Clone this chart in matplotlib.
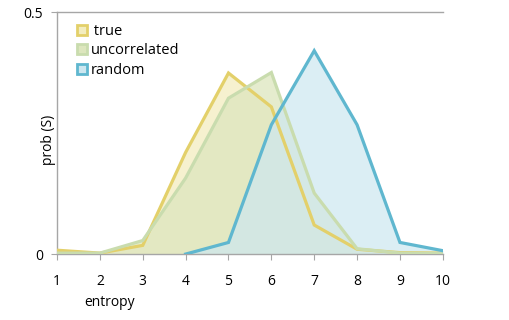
import numpy as np
import matplotlib
matplotlib.use("Agg")
import matplotlib.pyplot as plt
from matplotlib.lines import Line2D

entropy = [1, 2, 3, 4, 5, 6, 7, 8, 9, 10]
true_vals = [0.008, 0.002, 0.018, 0.21, 0.374, 0.304, 0.06, 0.01, 0.003, 0.002]
uncorr_vals = [0.002, 0.002, 0.028, 0.157, 0.322, 0.375, 0.126, 0.011, 0.002, 0.001]
random_vals = [np.nan, np.nan, np.nan, 0.0, 0.024, 0.267, 0.42, 0.267, 0.024, 0.007]
series_names = ["true", "uncorrelated", "random"]

line_colors = ["#E3D06A", "#C9DCAE", "#5FB7CF"]
fill_colors = ["#F3EDBF", "#DDE6BE", "#CDE7F0"]
fill_alpha = [0.75, 0.75, 0.7]

plt.rcParams['font.family'] = ['Open Sans', 'DejaVu Sans']
fig = plt.figure(figsize=(5.09, 3.20), dpi=100)
ax = fig.add_axes([0.112, 0.206, 0.758, 0.7565])

x = np.array(entropy, dtype=float)
for vals, lc, fc, a in zip([true_vals, uncorr_vals, random_vals], line_colors, fill_colors, fill_alpha):
    v = np.array(vals, dtype=float)
    m = ~np.isnan(v)
    ax.fill_between(x[m], 0, v[m], color=fc, alpha=a, lw=0, zorder=1)
for vals, lc in zip([true_vals, uncorr_vals, random_vals], line_colors):
    v = np.array(vals, dtype=float)
    m = ~np.isnan(v)
    ax.plot(x[m], v[m], color=lc, lw=2.3, zorder=3, solid_joinstyle='miter')

ax.set_xlim(1, 10)
ax.set_ylim(0, 0.5)
ax.set_xticks(entropy)
ax.set_xticklabels([str(e) for e in entropy])
ax.set_yticks([0, 0.5])
ax.set_yticklabels(["0", "0.5"])
for s in ["right"]:
    ax.spines[s].set_visible(False)
for s in ["left", "bottom", "top"]:
    ax.spines[s].set_color("#A6A6A6")
    ax.spines[s].set_linewidth(1.0)
ax.tick_params(axis='x', direction='out', length=4, color="#A6A6A6", pad=10, labelsize=10)
ax.tick_params(axis='y', direction='out', length=4, color="#A6A6A6", pad=6, labelsize=10)

fig.text(48 / 509, 1 - 140 / 320, "prob (S)", fontsize=10, rotation=90, ha='center', va='center')
fig.text(0.215, 0.055, "entropy", fontsize=10, ha='center', va='center')

handles = [Line2D([], [], ls='none', marker='s', markersize=7, markerfacecolor=fc,
                  markeredgecolor=lc, markeredgewidth=2) for lc, fc in zip(line_colors, fill_colors)]
leg = ax.legend(handles, [" true", "uncorrelated", "random"], loc='upper left',
                bbox_to_anchor=(0.03, 0.975), frameon=False, fontsize=10.5,
                handletextpad=0.1, handlelength=1.0, labelspacing=0.3, borderaxespad=0)

fig.savefig("out.png", dpi=100)
